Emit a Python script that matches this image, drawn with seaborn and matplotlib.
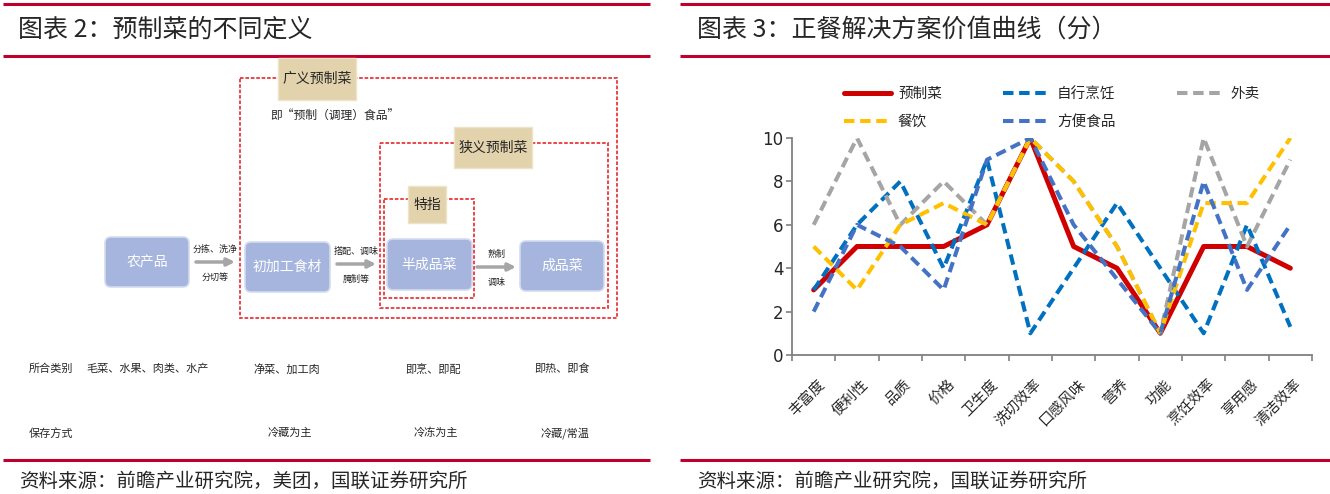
# Gráfico doble: definiciones de platos preparados + curva de valor (seaborn)
import pandas as pd
import numpy as np
import seaborn as sns
import matplotlib
matplotlib.use("Agg")
import matplotlib.pyplot as plt
from matplotlib.patches import Rectangle, FancyBboxPatch
from matplotlib.transforms import ScaledTranslation

sns.set_style("ticks")
plt.rcParams["font.family"] = ["Noto Sans CJK SC", "DejaVu Sans"]
plt.rcParams["axes.unicode_minus"] = False

# ========================================
# 1. DATOS
# ========================================
categorias = ["丰富度", "便利性", "品质", "价格", "卫生度", "洗切效率",
              "口感风味", "营养", "功能", "烹饪效率", "享用感", "清洁效率"]
yuzhicai = [3, 5, 5, 5, 6, 10, 5, 4, 1, 5, 5, 4]
zixing_pengren = [3, 6, 8, 4, 9, 1, 4, 7, 4, 1, 6, 1.3]
waimai = [6, 10, 6, 8, 6, 10, 8, 5, 1, 10, 5, 9]
canyin = [5, 3, 6, 7, 6, 10, 8, 5, 1, 7, 7, 10]
fangbian = [2, 6, 5, 3, 9, 10, 6, 3.5, 1, 8, 3, 6]
series_nombres = ["预制菜", "自行烹饪", "外卖", "餐饮", "方便食品"]
colores = ["#D00000", "#0070C0", "#A5A5A5", "#FFC000", "#4472C4"]
y_ticks = [0, 2, 4, 6, 8, 10]

# textos del diagrama de la izquierda
cajas_azules = ["农产品", "初加工食材", "半成品菜", "成品菜"]
etiquetas_tan = ["广义预制菜", "狭义预制菜", "特指"]
flechas_arriba = ["分拣、洗净", "搭配、调味", "熟制"]
flechas_abajo = ["分切等", "腌制等", "调味"]
fila_categoria = ["毛菜、水果、肉类、水产", "净菜、加工肉", "即烹、即配", "即热、即食"]
fila_guardado = ["", "冷藏为主", "冷冻为主", "冷藏/常温"]

ROJO_TITULO = "#C0002A"
ROJO_CAJA = "#E8383D"
TAN = "#E3D3AC"
AZUL_CAJA = "#A5B5DD"

# ========================================
# 2. FIGURA Y CAPA DE FONDO (en píxeles)
# ========================================
fig = plt.figure(figsize=(13.3, 4.94), dpi=100)
fondo = fig.add_axes([0, 0, 1, 1])
fondo.set_xlim(0, 1330)
fondo.set_ylim(494, 0)
fondo.axis("off")

# líneas rojas de cabecera y pie
for x0, x1 in [(3, 650), (680, 1330)]:
    for y in [4, 56, 460]:
        fondo.plot([x0, x1], [y, y], color=ROJO_TITULO, lw=2.2, solid_capstyle="butt")

fondo.text(18, 30, "图表 2：预制菜的不同定义", fontsize=18, va="center", ha="left")
fondo.text(697, 30, "图表 3：正餐解决方案价值曲线（分）", fontsize=18, va="center", ha="left")
fondo.text(19, 481, "资料来源：前瞻产业研究院，美团，国联证券研究所", fontsize=14,
           va="center", ha="left")
fondo.text(697, 481, "资料来源：前瞻产业研究院，国联证券研究所", fontsize=14,
           va="center", ha="left")

# ========================================
# 3. DIAGRAMA DE DEFINICIONES
# ========================================
def caja_punteada(x0, y0, x1, y1):
    fondo.add_patch(Rectangle((x0, y0), x1 - x0, y1 - y0, fill=False,
                              edgecolor=ROJO_CAJA, lw=1.3, linestyle=(0, (2, 1)), zorder=2))


def caja_tan(x0, y0, x1, y1, texto):
    fondo.add_patch(Rectangle((x0, y0), x1 - x0, y1 - y0, facecolor=TAN,
                              edgecolor="#EDE3C8", lw=1, zorder=3))
    fondo.text((x0 + x1) / 2, (y0 + y1) / 2, texto, fontsize=10, ha="center",
               va="center", zorder=4)


def caja_azul(x0, y0, x1, y1, texto):
    fondo.add_patch(FancyBboxPatch((x0, y0), x1 - x0, y1 - y0,
                                   boxstyle="round,pad=0,rounding_size=6",
                                   facecolor=AZUL_CAJA, edgecolor="#D3DBEF", lw=1.2, zorder=3))
    fondo.text((x0 + x1) / 2, (y0 + y1) / 2, texto, fontsize=10, color="white",
               ha="center", va="center", zorder=4)


caja_punteada(240, 78, 617, 318)
caja_punteada(380, 143, 608, 308)
caja_punteada(384, 199, 474, 298)

caja_tan(278, 58, 356, 100, etiquetas_tan[0])
caja_tan(454, 127, 532, 168, etiquetas_tan[1])
caja_tan(408, 186, 446, 223, etiquetas_tan[2])
fondo.text(270, 116, "即“预制（调理）食品”", fontsize=8.5, ha="left", va="center")

pos_azules = [(105, 237, 189, 287), (245, 242, 330, 292),
              (387, 239, 472, 290), (520, 241, 604, 291)]
for (x0, y0, x1, y1), texto in zip(pos_azules, cajas_azules):
    caja_azul(x0, y0, x1, y1, texto)

pos_flechas = [(196, 235, 262), (337, 376, 264), (477, 516, 267)]
for (x0, x1, y), arriba, abajo in zip(pos_flechas, flechas_arriba, flechas_abajo):
    fondo.annotate("", xy=(x1, y), xytext=(x0, y),
                   arrowprops=dict(arrowstyle="-|>", color="#A6A6A6", lw=2.5,
                                   mutation_scale=11, shrinkA=0, shrinkB=0))
    xc = (x0 + x1) / 2
    fondo.text(xc, y - 13, arriba, fontsize=6.5, ha="center", va="center")
    fondo.text(xc, y + 15, abajo, fontsize=6.5, ha="center", va="center")

fondo.text(29, 369, "所合类别", fontsize=8, ha="left", va="center")
fondo.text(29, 433, "保存方式", fontsize=8, ha="left", va="center")
centros_fila = [148, 287, 433, 562]
for xc, t1, t2 in zip(centros_fila, fila_categoria, fila_guardado):
    fondo.text(xc, 369, t1, fontsize=8, ha="center", va="center")
    if t2:
        fondo.text(xc + 3, 433, t2, fontsize=8, ha="center", va="center")

# ========================================
# 4. CURVA DE VALOR (SEABORN)
# ========================================
df = pd.concat([
    pd.DataFrame({"categoria": categorias, "serie": nombre, "valor": valores})
    for nombre, valores in zip(series_nombres,
                               [yuzhicai, zixing_pengren, waimai, canyin, fangbian])
], ignore_index=True)

ax = fig.add_axes([792 / 1330, 1 - 355 / 494, 520 / 1330, 217 / 494])
ax.patch.set_alpha(0)

paleta = dict(zip(series_nombres, colores))
guiones = {n: "" if n == "预制菜" else (2.6, 1.4) for n in series_nombres}
grosores = {n: 3.6 if n == "预制菜" else 2.9 for n in series_nombres}

sns.lineplot(data=df, x="categoria", y="valor", hue="serie", style="serie",
             size="serie", hue_order=series_nombres, style_order=series_nombres,
             size_order=series_nombres, palette=paleta, dashes=guiones,
             sizes=grosores, sort=False, estimator=None, ax=ax)

ax.set_xlim(-0.5, 11.5)
ax.set_ylim(0, 10)
ax.set_yticks(y_ticks)
ax.set_xlabel("")
ax.set_ylabel("")
sns.despine(ax=ax)
for lado in ["left", "bottom"]:
    ax.spines[lado].set_color("#808080")
    ax.spines[lado].set_linewidth(1.3)

ax.set_xticks(range(len(categorias)))
ax.set_xticklabels(categorias, rotation=45, ha="right", va="top",
                   rotation_mode="anchor", fontsize=10.5)
ax.set_xticks(np.arange(-0.5, len(categorias), 1), minor=True)
ax.tick_params(axis="x", which="major", length=0, pad=16)
ax.tick_params(axis="x", which="minor", length=4.5, width=1.2, color="#808080")
ax.tick_params(axis="y", length=4, width=1.2, color="#808080", pad=2)
for etiqueta in ax.get_yticklabels():
    etiqueta.set_fontfamily(["Liberation Sans Narrow", "DejaVu Sans"])
    etiqueta.set_fontsize(12)
for etiqueta in ax.get_xticklabels():
    etiqueta.set_transform(etiqueta.get_transform() +
                           ScaledTranslation(4 / 100, 0, fig.dpi_scale_trans))

# leyenda en tres columnas, orden por filas
leyenda = ax.get_legend()
handles = list(leyenda.legend_handles)
labels = [t.get_text() for t in leyenda.get_texts()]
leyenda.remove()
mapa = {l: h for h, l in zip(handles, labels) if l in series_nombres}
orden = ["预制菜", "餐饮", "自行烹饪", "方便食品", "外卖"]
fig.legend([mapa[n] for n in orden], orden, ncol=3, loc="upper left",
           bbox_to_anchor=(844 / 1330, 1 - 87 / 494), frameon=False,
           fontsize=10.5, handlelength=3.2, handletextpad=0.5,
           columnspacing=4.2, labelspacing=0.95, borderpad=0, borderaxespad=0)

fig.savefig("out.png", dpi=100)
print("Gráfico guardado en out.png")
